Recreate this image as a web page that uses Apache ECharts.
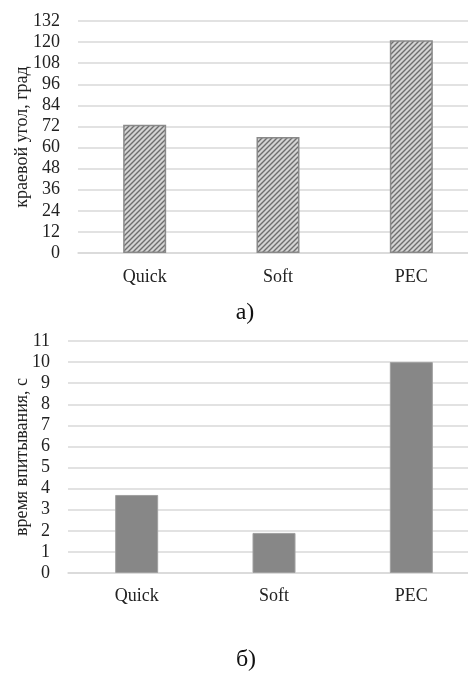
<!DOCTYPE html>
<html>
<head>
<meta charset="utf-8">
<script src="https://cdn.jsdelivr.net/npm/echarts@6/dist/echarts.min.js"></script>
<style>
  html, body { margin: 0; padding: 0; background: #fff; }
  #main { width: 468px; height: 673px; }
</style>
</head>
<body>
<div id="main"></div>
<script>
// data
var categories = ['Quick', 'Soft', 'PEC'];
var angleValues = [73, 66, 121];      // краевой угол, град
var timeValues = [3.7, 1.9, 10];      // время впитывания, с
var angleTicks = { min: 0, max: 132, interval: 12 };
var timeTicks = { min: 0, max: 11, interval: 1 };

var serif = '"Liberation Serif", "DejaVu Serif", serif';

// hatched fill for top bars
function hatch() {
  var c = document.createElement('canvas');
  c.width = 5; c.height = 5;
  var ctx = c.getContext('2d');
  ctx.fillStyle = '#d4d4d4';
  ctx.fillRect(0, 0, 5, 5);
  ctx.strokeStyle = '#6e6e6e';
  ctx.lineWidth = 1.4;
  ctx.beginPath();
  ctx.moveTo(-1, 6); ctx.lineTo(6, -1);
  ctx.moveTo(-1, 1); ctx.lineTo(1, -1);
  ctx.moveTo(4, 6); ctx.lineTo(6, 4);
  ctx.stroke();
  return c;
}

var gridLine = { lineStyle: { color: '#d9d9d9', width: 1.5 } };
var labelFont = { color: '#222', fontFamily: serif, fontSize: 18 };

var chart = echarts.init(document.getElementById('main'));
var option = {
  animation: false,
  title: [
    { text: 'а)', left: 240, top: 296, textAlign: 'center',
      textStyle: { fontFamily: serif, fontSize: 24, fontWeight: 'normal', color: '#111' } },
    { text: 'б)', left: 241, top: 643, textAlign: 'center',
      textStyle: { fontFamily: serif, fontSize: 24, fontWeight: 'normal', color: '#111' } }
  ],
  grid: [
    { left: 78, top: 21, width: 400, height: 232, outerBoundsMode: 'none' },
    { left: 68, top: 341, width: 412, height: 232, outerBoundsMode: 'none' }
  ],
  xAxis: [
    { type: 'category', gridIndex: 0, data: categories,
      axisLine: gridLine, axisTick: { show: false },
      axisLabel: Object.assign({ margin: 15 }, labelFont) },
    { type: 'category', gridIndex: 1, data: categories,
      axisLine: gridLine, axisTick: { show: false },
      axisLabel: Object.assign({ margin: 14 }, labelFont) }
  ],
  yAxis: [
    { type: 'value', gridIndex: 0, min: angleTicks.min, max: angleTicks.max, interval: angleTicks.interval,
      name: 'краевой угол, град', nameLocation: 'middle', nameGap: 47, nameRotate: 90,
      nameMoveOverlap: false,
      nameTextStyle: { fontFamily: serif, fontSize: 18, color: '#222' },
      splitLine: gridLine, axisLine: { show: false },
      axisLabel: Object.assign({ margin: 18 }, labelFont) },
    { type: 'value', gridIndex: 1, min: timeTicks.min, max: timeTicks.max, interval: timeTicks.interval,
      name: 'время впитывания, с', nameLocation: 'middle', nameGap: 37, nameRotate: 90,
      nameMoveOverlap: false,
      nameTextStyle: { fontFamily: serif, fontSize: 18, color: '#222' },
      splitLine: gridLine, axisLine: { show: false },
      axisLabel: Object.assign({ margin: 18 }, labelFont) }
  ],
  series: [
    { type: 'bar', xAxisIndex: 0, yAxisIndex: 0, data: angleValues, barWidth: 43,
      itemStyle: { color: { image: hatch(), repeat: 'repeat' }, borderColor: '#8a8a8a', borderWidth: 1.5 } },
    { type: 'bar', xAxisIndex: 1, yAxisIndex: 1, data: timeValues, barWidth: 43,
      itemStyle: { color: '#878787', borderColor: '#a0a0a0', borderWidth: 1 } }
  ]
};
chart.setOption(option);
</script>
</body>
</html>
